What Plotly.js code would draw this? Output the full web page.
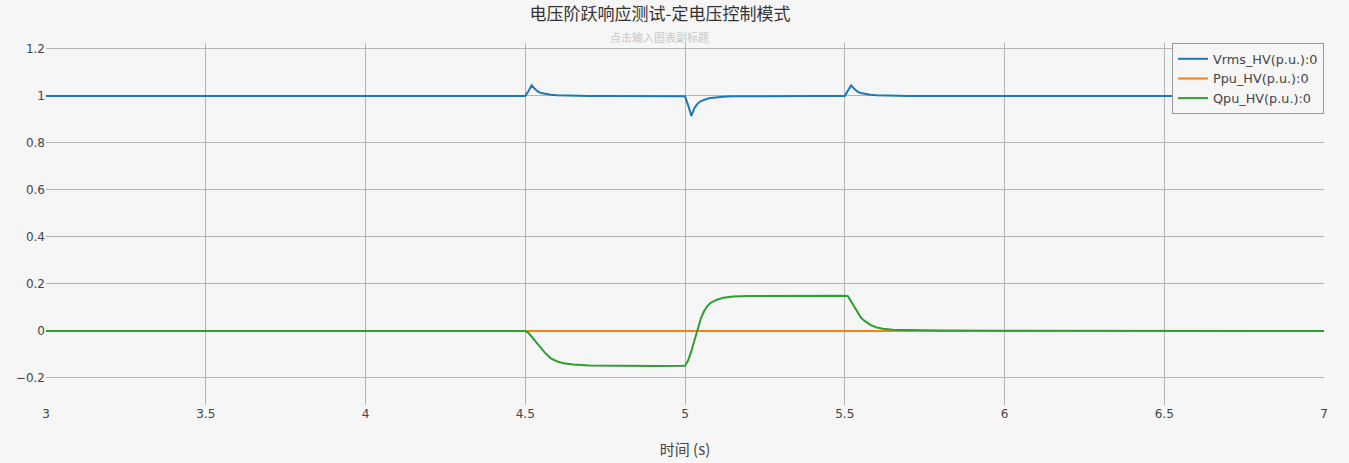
<!DOCTYPE html>
<html>
<head>
<meta charset="utf-8">
<script src="https://cdn.plot.ly/plotly-3.0.1.min.js"></script>
<style>
  html, body { margin: 0; padding: 0; background: #f6f6f6; }
  #chart { width: 1349px; height: 463px; }
</style>
</head>
<body>
<div id="chart"></div>
<script>
// time axis (s)
const timeS = [
    3.0, 3.5, 4.0, 4.5, 4.51, 4.52, 4.53, 4.54, 4.55, 4.56, 4.58, 4.6, 4.62, 4.65,
    4.7, 4.75, 4.8, 4.9, 5.0, 5.01, 5.02, 5.03, 5.04, 5.05, 5.06, 5.07, 5.08, 5.1,
    5.12, 5.15, 5.2, 5.3, 5.4, 5.5, 5.51, 5.52, 5.53, 5.54, 5.55, 5.56, 5.58, 5.6,
    5.62, 5.65, 5.7, 5.8, 6.0, 6.5, 7.0
];

const vrms = [
    1.0, 1.0, 1.0, 1.0, 1.02, 1.045, 1.03, 1.018, 1.012, 1.009, 1.005, 1.003, 1.002, 1.001,
    1.0, 0.999, 0.999, 0.998, 0.998, 0.96, 0.915, 0.95, 0.968, 0.978, 0.984, 0.988, 0.991, 0.994,
    0.996, 0.998, 0.999, 0.999, 1.0, 1.0, 1.02, 1.045, 1.03, 1.018, 1.012, 1.009, 1.005, 1.003,
    1.002, 1.001, 1.0, 1.0, 1.0, 1.0, 1.0
];

const ppu = [
    0, 0, 0, 0, 0, 0, 0, 0, 0, 0, 0, 0, 0, 0,
    0, 0, 0, 0, 0, 0, 0, 0, 0, 0, 0, 0, 0, 0,
    0, 0, 0, 0, 0, 0, 0, 0, 0, 0, 0, 0, 0, 0,
    0, 0, 0, 0, 0, 0, 0
];

const qpu = [
    0, 0, 0, 0, -0.008, -0.025, -0.042, -0.06, -0.075, -0.09, -0.117, -0.13, -0.137, -0.143,
    -0.147, -0.148, -0.149, -0.149, -0.148, -0.125, -0.085, -0.035, 0.012, 0.055, 0.085, 0.106, 0.12, 0.133,
    0.141, 0.147, 0.149, 0.15, 0.15, 0.15, 0.148, 0.125, 0.1, 0.077, 0.058, 0.045, 0.026, 0.015,
    0.009, 0.005, 0.003, 0.002, 0.001, 0.001, 0
];

const seriesNames = ['Vrms_HV(p.u.):0', 'Ppu_HV(p.u.):0', 'Qpu_HV(p.u.):0'];
const seriesColors = ['#1f77b4', '#ff7f0e', '#2ca02c'];
const seriesValues = [vrms, ppu, qpu];

const xTicks = [3, 3.5, 4, 4.5, 5, 5.5, 6, 6.5, 7];
const yTicks = [-0.2, 0, 0.2, 0.4, 0.6, 0.8, 1, 1.2];

const baseFont = 'Verdana, "DejaVu Sans", "Noto Sans CJK SC", sans-serif';

const traces = seriesValues.map((vals, i) => ({
    x: timeS,
    y: vals,
    type: 'scatter',
    mode: 'lines',
    name: seriesNames[i],
    line: { color: seriesColors[i], width: 2 }
}));

const layout = {
    width: 1349,
    height: 463,
    paper_bgcolor: '#f6f6f6',
    plot_bgcolor: '#f6f6f6',
    font: { family: baseFont, size: 12, color: '#444' },
    margin: { l: 46, r: 25, t: 43, b: 58 },
    title: {
        text: '电压阶跃响应测试-定电压控制模式',
        font: { family: '"Noto Sans CJK SC", sans-serif', size: 17, color: '#333' },
        x: 0.4804, xref: 'paper', xanchor: 'center',
        y: 0.97, yref: 'container', yanchor: 'middle'
    },
    annotations: [{
        text: '点击输入图表副标题',
        xref: 'paper', yref: 'paper',
        x: 0.4804, y: 1.0, xanchor: 'center', yanchor: 'middle',
        yshift: 6,
        showarrow: false,
        font: { family: '"Noto Sans CJK SC", sans-serif', size: 11, color: '#c8c8c8' }
    }],
    xaxis: {
        range: [3, 7],
        tickvals: xTicks,
        ticktext: xTicks.map(String),
        showgrid: true,
        gridcolor: '#b4b4b4',
        gridwidth: 1,
        zeroline: false,
        showline: false,
        ticks: '',
        tickfont: { size: 12, color: '#444' },
        title: {
            text: '时间 (s)',
            font: { family: '"Noto Sans CJK SC", sans-serif', size: 15, color: '#444' },
            standoff: 24
        }
    },
    yaxis: {
        range: [-0.315, 1.225],
        tickvals: yTicks,
        ticktext: yTicks.map(v => v < 0 ? '\u2212' + String(-v) : String(v)),
        showgrid: true,
        gridcolor: '#b4b4b4',
        gridwidth: 1,
        zeroline: false,
        showline: false,
        ticks: '',
        tickfont: { size: 12, color: '#444' }
    },
    legend: {
        x: 1, y: 1, xanchor: 'right', yanchor: 'top',
        bgcolor: '#f6f6f6',
        bordercolor: '#999',
        borderwidth: 1,
        font: { family: baseFont, size: 12.8, color: '#444' },
        tracegroupgap: 0
    },
    showlegend: true
};

Plotly.newPlot('chart', traces, layout, { displayModeBar: false, staticPlot: true });
</script>
</body>
</html>
